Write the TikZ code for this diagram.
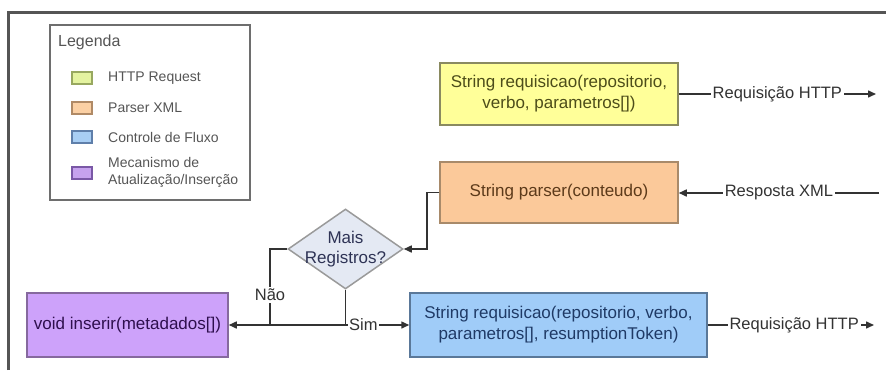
\documentclass[tikz,border=0pt]{standalone}
\usepackage{fontspec}
\setmainfont{Liberation Sans}
\usetikzlibrary{shapes.geometric,arrows.meta}
\definecolor{frame}{HTML}{555555}
\definecolor{conn}{HTML}{333333}
\definecolor{yfill}{HTML}{FFFF99}
\definecolor{ydraw}{HTML}{8A8A60}
\definecolor{ytext}{HTML}{4D4D1A}
\definecolor{ofill}{HTML}{FBC99A}
\definecolor{odraw}{HTML}{A88A6A}
\definecolor{otext}{HTML}{5C3A1A}
\definecolor{bfill}{HTML}{A0CCF8}
\definecolor{bdraw}{HTML}{5A7899}
\definecolor{btext}{HTML}{1F3A66}
\definecolor{pfill}{HTML}{CDA2FA}
\definecolor{pdraw}{HTML}{86699E}
\definecolor{ptext}{HTML}{2E0F4D}
\definecolor{dfill}{HTML}{E4E9F3}
\definecolor{ddraw}{HTML}{9A9A9A}
\definecolor{dtext}{HTML}{2E3355}
\definecolor{legtext}{HTML}{555555}
\definecolor{sy}{HTML}{E4F3A0}\definecolor{syd}{HTML}{98A860}
\definecolor{so}{HTML}{FBD0A4}\definecolor{sod}{HTML}{B08A66}
\definecolor{sb}{HTML}{A8CEF4}\definecolor{sbd}{HTML}{5F7FAA}
\definecolor{sp}{HTML}{C6A2EE}\definecolor{spd}{HTML}{7A58A6}
\tikzset{
  procbox/.style={draw, line width=1.5, align=center, inner sep=0,
    font=\fontsize{17}{21}\selectfont},
  conline/.style={draw=conn, line width=1.5},
  tip/.style={-{Triangle[length=8,width=7]}},
  clabel/.style={fill=white, inner sep=2, text=conn, font=\fontsize{16.5}{19}\selectfont},
  swatch/.style={draw=#1, line width=1.2, minimum width=20, minimum height=12, inner sep=0},
  legitem/.style={anchor=west, text=legtext, align=left, inner sep=0, font=\fontsize{14}{17}\selectfont}
}
\begin{document}
\begin{tikzpicture}[x=1pt,y=-1pt]
\useasboundingbox (0,0) rectangle (886,370);
\fill[white] (0,0) rectangle (886,370);
% frame
\draw[frame, line width=3] (8.5,370) -- (8.5,12) -- (886,12);
% legend
\draw[draw=frame!85, line width=1.3] (50,25) rectangle (250,200);
\node[anchor=west, text=legtext, inner sep=0, font=\fontsize{16}{19}\selectfont] (legt) at (58,42) {Legenda};
\node[swatch=syd, fill=sy] (s1) at (82,78) {};
\node[legitem] (l1) at (108,78) {HTTP Request};
\node[swatch=sod, fill=so] (s2) at (82,108) {};
\node[legitem] (l2) at (108,108) {Parser XML};
\node[swatch=sbd, fill=sb] (s3) at (82,137) {};
\node[legitem] (l3) at (108,137) {Controle de Fluxo};
\node[swatch=spd, fill=sp] (s4) at (82,173) {};
\node[legitem] (l4) at (108,172) {Mecanismo de\\Atualização/Inserção};
% boxes
\node[procbox, draw=ydraw, fill=yfill, text=ytext, minimum width=238, minimum height=62] (req1) at (559,94) {String requisicao(repositorio,\\verbo, parametros[])};
\node[procbox, draw=odraw, fill=ofill, text=otext, minimum width=238, minimum height=61] (pars) at (559,192.5) {String parser(conteudo)};
\node[procbox, draw=bdraw, fill=bfill, text=btext, minimum width=297, minimum height=64] (req2) at (558.5,325) {String requisicao(repositorio, verbo,\\parametros[], resumptionToken)};
\node[procbox, draw=pdraw, fill=pfill, text=ptext, minimum width=201, minimum height=64] (ins) at (127.5,325) {void inserir(metadados[])};
% decision
\node[diamond, draw=ddraw, fill=dfill, line width=1.5, minimum width=115, minimum height=80, inner sep=0] (dia) at (345.5,249) {};
\node[align=center, text=dtext, inner sep=0, font=\fontsize{17}{20}\selectfont] (diat) at (dia.center) {Mais\\Registros?};
% free ends
\coordinate (out1) at (876,94);
\coordinate (in2) at (879,193);
\coordinate (out3) at (874,325);
\coordinate (bend1) at (427,192.5);
\coordinate (bend2) at (270,249);
\coordinate (join1) at (270,325);
\coordinate (join2) at (345.5,325);
% connectors
\draw[conline, tip] (req1.east) -- node[clabel, pos=0.5] (lab1) {Requisição HTTP} (out1);
\draw[conline, tip] (in2) -- node[clabel, pos=0.5] (lab2) {Resposta XML} (pars.east |- in2);
\draw[conline, tip] (req2.east) -- node[clabel, pos=0.52] (lab3) {Requisição HTTP} (out3);
\draw[conline, tip] (pars.west) -- (bend1) |- (dia.east);
\draw[conline] (join1) -- (join2);
\draw[conline, tip] (dia.west) -- (bend2) |- node[clabel, pos=0.3] (nao) {Não} (ins.east);
\draw[conline, tip] (dia.south) -- (join2) -- node[clabel, inner sep=1, pos=0.28] (sim) {Sim} (req2.west);
\end{tikzpicture}
\end{document}
